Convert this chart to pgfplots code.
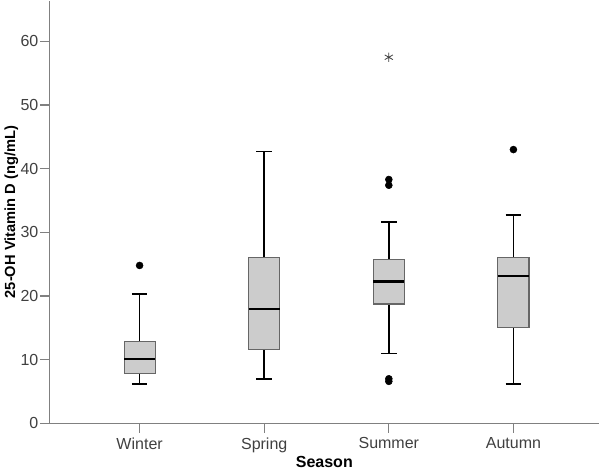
\documentclass[border=0pt]{standalone}
\usepackage{fontspec}
\setmainfont{Liberation Sans}
\usepackage{pgfplots}
\pgfplotsset{compat=1.18}
\usepgfplotslibrary{statistics}
\definecolor{boxfill}{HTML}{CCCCCC}
\definecolor{axgray}{HTML}{808080}
\definecolor{lblgray}{HTML}{404040}
\begin{document}
\begin{tikzpicture}
\begin{axis}[
 scale only axis, width=412.5pt, height=317pt,
 xmin=0.275, xmax=4.69, ymin=0, ymax=66.4,
 axis x line*=bottom, axis y line*=left,
 axis line style={-, axgray, line width=0.9pt},
 xtick={1,2,3,4}, xticklabels={Winter,Spring,Summer,Autumn},
 ytick={0,10,...,60},
 tick align=outside, major tick length=7pt, tick style={axgray, line width=0.9pt},
 tick label style={font=\fontsize{12}{14}\selectfont, text=lblgray},
 yticklabel style={inner sep=1pt},
 /pgf/number format/assume math mode=true,
 xlabel={Season}, ylabel={25-OH Vitamin D (ng/mL)},
 every axis x label/.style={at={(axis description cs:0.5,-0.092)}, anchor=center},
 every axis y label/.style={at={(axis description cs:-0.069,0.5)}, rotate=90, anchor=center},
 xlabel style={font=\bfseries\fontsize{12}{14}\selectfont},
 ylabel style={font=\bfseries\fontsize{11}{13}\selectfont},
 boxplot/draw direction=y,
 boxplot/box extend=0.25, boxplot/whisker extend=0.125,
 boxplot/every box/.style={draw=black!60, fill=boxfill, line width=0.8pt},
 boxplot/every whisker/.style={black, line width=1.2pt},
 boxplot/every median/.style={black, line width=1.8pt},
 clip=false,
]
\addplot[black, boxplot prepared={draw position=1, lower whisker=6.2, lower quartile=7.84,
  median=10.14, upper quartile=12.93, upper whisker=20.3}] coordinates {};
\addplot[black, boxplot prepared={draw position=2, lower whisker=6.95, lower quartile=11.6,
  median=17.96, upper quartile=26.1, upper whisker=42.7}] coordinates {};
\addplot[black, boxplot prepared={draw position=3, lower whisker=10.98, lower quartile=18.75,
  median=22.26, upper quartile=25.7, upper whisker=31.6}] coordinates {};
\addplot[black, boxplot prepared={draw position=4, lower whisker=6.17, lower quartile=15.0,
  median=23.15, upper quartile=26.0, upper whisker=32.7}] coordinates {};
% outliers
\addplot[only marks, mark=*, mark size=2.6pt, black, mark options={fill=black}]
  coordinates {(1,24.8) (3,38.3) (3,37.4) (3,7.0) (3,6.6) (4,43.0)};
\addplot[only marks, mark=asterisk, mark size=3.5pt, black!75, line width=0.6pt]
  coordinates {(3,57.5)};
\end{axis}
\path ([yshift=-39.4pt]current axis.south west);
\end{tikzpicture}
\end{document}
